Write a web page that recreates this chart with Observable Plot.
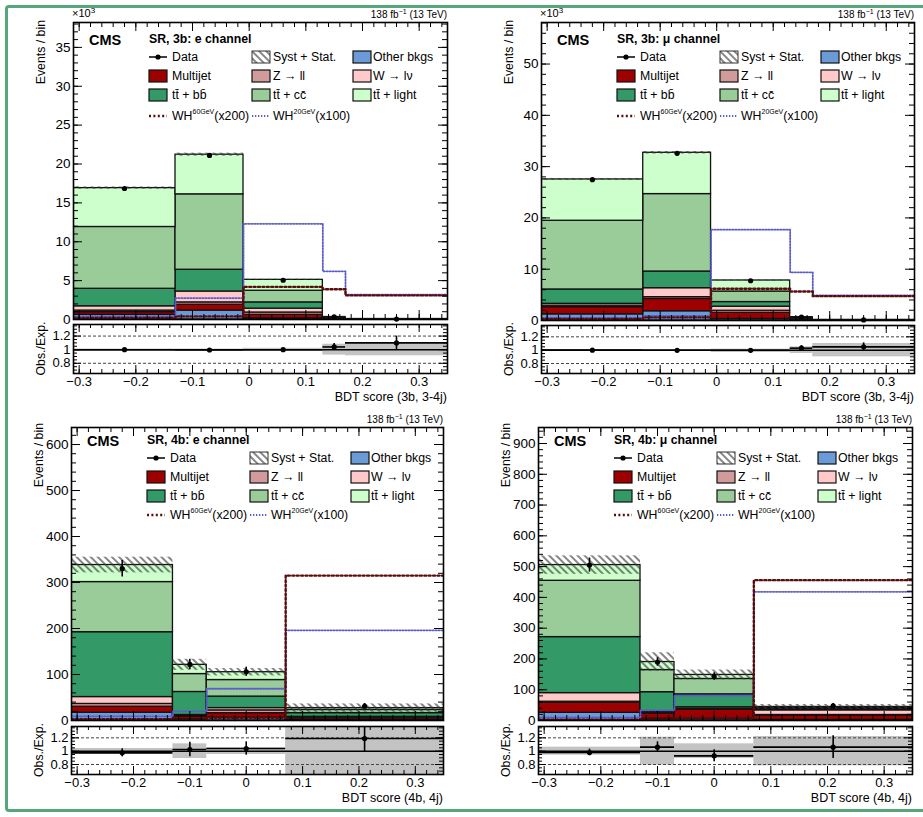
<!DOCTYPE html>
<html><head><meta charset="utf-8">
<script src="https://cdn.jsdelivr.net/npm/d3@7"></script>
<script src="https://cdn.jsdelivr.net/npm/@observablehq/plot@0.6"></script>
<style>
html,body{margin:0;padding:0;background:#fff;}
#fig{position:relative;width:923px;height:817px;overflow:hidden;font-family:"Liberation Sans",Arial,Helvetica,sans-serif;background:#fff;}
#border{position:absolute;left:5px;top:5px;width:930px;height:807px;border:3px solid #55a77b;border-radius:4px;box-sizing:border-box;}
</style></head><body>
<svg width="0" height="0" style="position:absolute">
  <defs>
    <pattern id="hatch" patternUnits="userSpaceOnUse" width="5" height="5" patternTransform="rotate(-45)">
      <line x1="1" y1="0" x2="1" y2="5" stroke="#333" stroke-width="1.2"/>
    </pattern>
  </defs>
</svg>
<div id="fig"><div id="border"></div></div>
<script>
// ---------------- data ----------------
const processNames = ["Other bkgs", "Multijet", "Z \u2192 ll", "W \u2192 l\u03bd", "tt\u0304 + bb\u0304", "tt\u0304 + cc\u0304", "tt\u0304 + light"];
const processColors = ["#6a9bd6", "#9e0000", "#d29b9b", "#ffc9c9", "#339966", "#99cc99", "#ccffcc"];

const edges3b = [-0.31, -0.13, -0.01, 0.13, 0.17, 0.35];
const edges4b = [-0.31, -0.13, -0.07, 0.07, 0.35];
const xTicks = [-0.3, -0.2, -0.1, 0, 0.1, 0.2, 0.3];
const ratioTicks = [0.8, 1, 1.2];

// SR 3b, e channel (events x10^3)
const el3b_other    = [0.60, 1.15, 0.15, 0.02, 0.005];
const el3b_multijet = [0.35, 0.75, 0.45, 0.05, 0.01];
const el3b_zll      = [0.20, 0.30, 0.30, 0.02, 0.005];
const el3b_wlnu     = [0.55, 1.40, 0.50, 0.03, 0.01];
const el3b_ttbb     = [2.25, 2.80, 0.80, 0.06, 0.01];
const el3b_ttcc     = [7.95, 9.70, 1.50, 0.08, 0.01];
const el3b_ttlight  = [5.00, 5.10, 1.40, 0.06, 0.01];
const el3b_data     = [16.85, 21.10, 5.05, 0.33, 0.06];
const el3b_dataErr  = [0.13, 0.15, 0.07, 0.02, 0.008];
const el3b_unc      = [0.15, 0.20, 0.08, 0.02, 0.006];
const el3b_wh60     = [0.2, 0.4, 4.2, 3.9, 3.1];
const el3b_wh20     = [0.4, 2.75, 12.3, 6.2, 3.2];
const el3b_ratio    = [1.00, 0.995, 1.00, 1.04, 1.10];
const el3b_ratioErr = [0.008, 0.007, 0.014, 0.05, 0.10];
const el3b_band     = [0.01, 0.01, 0.02, 0.08, 0.09];

// SR 3b, mu channel (events x10^3)
const mu3b_other    = [1.20, 1.80, 0.30, 0.05, 0.01];
const mu3b_multijet = [1.40, 2.40, 1.20, 0.10, 0.02];
const mu3b_zll      = [0.30, 0.35, 0.40, 0.03, 0.005];
const mu3b_wlnu     = [0.35, 1.75, 0.80, 0.07, 0.01];
const mu3b_ttbb     = [2.80, 3.25, 0.90, 0.10, 0.02];
const mu3b_ttcc     = [13.40, 15.10, 2.05, 0.15, 0.02];
const mu3b_ttlight  = [8.05, 8.05, 2.15, 0.15, 0.02];
const mu3b_data     = [27.45, 32.60, 7.75, 0.67, 0.11];
const mu3b_dataErr  = [0.17, 0.18, 0.09, 0.026, 0.01];
const mu3b_unc      = [0.20, 0.25, 0.10, 0.03, 0.008];
const mu3b_wh60     = [0.3, 0.6, 6.2, 5.65, 4.75];
const mu3b_wh20     = [0.5, 0.9, 17.7, 9.4, 4.9];
const mu3b_ratio    = [1.00, 0.998, 0.997, 1.03, 1.05];
const mu3b_ratioErr = [0.006, 0.006, 0.012, 0.04, 0.06];
const mu3b_band     = [0.01, 0.01, 0.015, 0.05, 0.10];

// SR 4b, e channel (events)
const el4b_other    = [17, 3, 6, 1];
const el4b_multijet = [13, 5, 10, 4];
const el4b_zll      = [6, 2, 6, 1];
const el4b_wlnu     = [15, 2, 5, 2];
const el4b_ttbb     = [141, 50, 25, 8];
const el4b_ttcc     = [109, 39, 36, 7];
const el4b_ttlight  = [37, 20, 17, 4];
const el4b_data     = [330, 122, 106, 31];
const el4b_dataErr  = [18, 11, 10, 6];
const el4b_unc      = [17, 12, 8, 9];
const el4b_wh60     = [3, 2, 6, 315];
const el4b_wh20     = [9, 20, 69, 196];
const el4b_ratio    = [0.975, 1.025, 1.04, 1.19];
const el4b_ratioErr = [0.06, 0.11, 0.10, 0.20];
const el4b_band     = [0.04, 0.11, 0.05, 0.50];

// SR 4b, mu channel (events)
const mu4b_other    = [25, 6, 5, 2];
const mu4b_multijet = [33, 17, 30, 14];
const mu4b_zll      = [3, 2, 3, 2];
const mu4b_wlnu     = [28, 3, 5, 15];
const mu4b_ttbb     = [182, 64, 42, 4];
const mu4b_ttcc     = [183, 72, 50, 4];
const mu4b_ttlight  = [51, 26, 13, 3];
const mu4b_data     = [505, 190, 143, 48];
const mu4b_dataErr  = [23, 14, 12, 7];
const mu4b_unc      = [30, 30, 16, 8];
const mu4b_wh60     = [3, 3, 8, 456];
const mu4b_wh20     = [10, 33, 81, 418];
const mu4b_ratio    = [0.98, 1.06, 0.93, 1.06];
const mu4b_ratioErr = [0.05, 0.08, 0.09, 0.17];
const mu4b_band     = [0.06, 0.21, 0.11, 0.22];

// ---------------- panels (layout) ----------------
const panels = [
  {title: "SR, 3b: e channel", xTitle: "BDT score (3b, 3-4j)", scaled: true,
   L: 73, R: 447, T: 22, B: 319, RT: 324, RB: 373, yMax: 38.2, yStep: 5, yMinor: 1, rows: [35, 54, 73, 94],
   edges: edges3b, comps: [el3b_other, el3b_multijet, el3b_zll, el3b_wlnu, el3b_ttbb, el3b_ttcc, el3b_ttlight],
   data: el3b_data, dataErr: el3b_dataErr, unc: el3b_unc, wh60: el3b_wh60, wh20: el3b_wh20,
   ratio: el3b_ratio, ratioErr: el3b_ratioErr, band: el3b_band},
  {title: "SR, 3b: \u03bc channel", xTitle: "BDT score (3b, 3-4j)", scaled: true,
   L: 541, R: 914, T: 22, B: 320, RT: 325, RB: 373, yMax: 58.1, yStep: 10, yMinor: 2, rows: [35, 54, 73, 94],
   edges: edges3b, comps: [mu3b_other, mu3b_multijet, mu3b_zll, mu3b_wlnu, mu3b_ttbb, mu3b_ttcc, mu3b_ttlight],
   data: mu3b_data, dataErr: mu3b_dataErr, unc: mu3b_unc, wh60: mu3b_wh60, wh20: mu3b_wh20,
   ratio: mu3b_ratio, ratioErr: mu3b_ratioErr, band: mu3b_band},
  {title: "SR, 4b: e channel", xTitle: "BDT score (4b, 4j)", scaled: false,
   L: 71, R: 443, T: 427, B: 720, RT: 726, RB: 774, yMax: 637, yStep: 100, yMinor: 20, rows: [31, 50, 69, 88],
   edges: edges4b, comps: [el4b_other, el4b_multijet, el4b_zll, el4b_wlnu, el4b_ttbb, el4b_ttcc, el4b_ttlight],
   data: el4b_data, dataErr: el4b_dataErr, unc: el4b_unc, wh60: el4b_wh60, wh20: el4b_wh20,
   ratio: el4b_ratio, ratioErr: el4b_ratioErr, band: el4b_band},
  {title: "SR, 4b: \u03bc channel", xTitle: "BDT score (4b, 4j)", scaled: false,
   L: 538, R: 912, T: 427, B: 720, RT: 726, RB: 774, yMax: 952, yStep: 100, yMinor: 20, rows: [31, 50, 69, 88],
   edges: edges4b, comps: [mu4b_other, mu4b_multijet, mu4b_zll, mu4b_wlnu, mu4b_ttbb, mu4b_ttcc, mu4b_ttlight],
   data: mu4b_data, dataErr: mu4b_dataErr, unc: mu4b_unc, wh60: mu4b_wh60, wh20: mu4b_wh20,
   ratio: mu4b_ratio, ratioErr: mu4b_ratioErr, band: mu4b_band}
];

// ---------------- drawing ----------------
const FONT = '"Liberation Sans", Arial, Helvetica, sans-serif';
const XDOM = [-0.31, 0.35];
const RDOM = [0.65, 1.37];
const WH60_STYLE = {stroke: "#5a0c0c", width: 2.4, dash: "2,2.4"};
const WH20_STYLE = {stroke: "#5b5bcf", width: 1.8, dash: "1.3,1.7"};
const fig = document.getElementById("fig");

function tickRange(lo, hi, step) {
  const a = Math.ceil(lo / step - 1e-9), b = Math.floor(hi / step + 1e-9);
  return d3.range(a, b + 1).map(i => +(i * step).toFixed(6));
}
function stepPoints(edges, vals) {
  const pts = vals.map((v, i) => ({x: edges[i], y: v}));
  pts.push({x: edges[edges.length - 1], y: vals[vals.length - 1]});
  return pts;
}
function fmtX(d) { const v = Math.round(d * 10) / 10; return v < 0 ? "\u2212" + Math.abs(v) : String(v); }
function place(svg, left, top) {
  svg.style.position = "absolute";
  svg.style.left = left + "px";
  svg.style.top = top + "px";
  fig.appendChild(svg);
}
function frameTicks(W, H, xMaj, xMin, yMaj, yMin, big, small) {
  return [
    Plot.tickX(xMaj, {x: d => d, insetTop: H - big, stroke: "black", strokeWidth: 1}),
    Plot.tickX(xMaj, {x: d => d, insetBottom: H - big, stroke: "black", strokeWidth: 1}),
    Plot.tickX(xMin, {x: d => d, insetTop: H - small, stroke: "black", strokeWidth: 1}),
    Plot.tickX(xMin, {x: d => d, insetBottom: H - small, stroke: "black", strokeWidth: 1}),
    Plot.tickY(yMaj, {y: d => d, insetRight: W - big, stroke: "black", strokeWidth: 1}),
    Plot.tickY(yMaj, {y: d => d, insetLeft: W - big, stroke: "black", strokeWidth: 1}),
    Plot.tickY(yMin, {y: d => d, insetRight: W - small, stroke: "black", strokeWidth: 1}),
    Plot.tickY(yMin, {y: d => d, insetLeft: W - small, stroke: "black", strokeWidth: 1})
  ];
}

function drawPanel(p) {
  const mL = 70, mR = 6, mT = 22, mB = 2;
  const W = p.R - p.L, H = p.B - p.T;
  const bins = p.edges.slice(0, -1).map((e, i) => ({
    i, x1: e, x2: p.edges[i + 1], xc: (e + p.edges[i + 1]) / 2,
    data: p.data[i], err: p.dataErr[i], unc: p.unc[i],
    ratio: p.ratio[i], rErr: p.ratioErr[i], band: p.band[i]
  }));
  const rects = [];
  bins.forEach(b => {
    let c = 0;
    p.comps.forEach((arr, k) => { rects.push({k, x1: b.x1, x2: b.x2, y1: c, y2: c + arr[b.i]}); c += arr[b.i]; });
    b.total = c;
  });

  const xMaj = tickRange(XDOM[0], XDOM[1], 0.1), xMin = tickRange(XDOM[0], XDOM[1], 0.02);
  const yMaj = tickRange(0, p.yMax, p.yStep), yMin = tickRange(0, p.yMax, p.yMinor);

  const marks = [];
  p.comps.forEach((arr, k) => {
    marks.push(Plot.rect(rects.filter(r => r.k === k), {x1: "x1", x2: "x2", y1: "y1", y2: "y2",
      fill: processColors[k], stroke: "#111", strokeWidth: 1.3, clip: true}));
  });
  marks.push(Plot.rect(bins, {x1: "x1", x2: "x2", y1: d => d.total - d.unc, y2: d => d.total + d.unc,
    fill: "url(#hatch)", clip: true}));
  marks.push(Plot.line(stepPoints(p.edges, p.wh20), {x: "x", y: "y", curve: "step-after",
    stroke: WH20_STYLE.stroke, strokeWidth: WH20_STYLE.width, strokeDasharray: WH20_STYLE.dash, clip: true}));
  marks.push(Plot.line(stepPoints(p.edges, p.wh60), {x: "x", y: "y", curve: "step-after",
    stroke: WH60_STYLE.stroke, strokeWidth: WH60_STYLE.width, strokeDasharray: WH60_STYLE.dash, clip: true}));
  marks.push(Plot.ruleX(bins, {x: "xc", y1: d => d.data - d.err, y2: d => d.data + d.err, stroke: "black", strokeWidth: 1.6}));
  marks.push(Plot.dot(bins, {x: "xc", y: "data", r: 2.6, fill: "black"}));
  marks.push(...frameTicks(W, H, xMaj, xMin, yMaj, yMin, 9, 5));
  marks.push(Plot.axisY({ticks: yMaj, anchor: "left", tickSize: 0, tickPadding: 3, fontSize: 13.5, label: null, tickFormat: d => String(d)}));
  marks.push(Plot.frame({stroke: "black", strokeWidth: 1.6}));

  const svg = Plot.plot({
    width: mL + W + mR, height: mT + H + mB,
    marginLeft: mL, marginRight: mR, marginTop: mT, marginBottom: mB,
    x: {domain: XDOM, axis: null},
    y: {domain: [0, p.yMax]},
    style: {fontFamily: FONT, fontSize: "13px", background: "none", overflow: "visible", color: "black"},
    marks
  });
  place(svg, p.L - mL, p.T - mT);

  // annotations (frame-relative)
  const g = d3.select(svg).append("g").attr("transform", `translate(${mL},${mT})`)
    .attr("font-family", FONT).attr("fill", "black").attr("text-anchor", "start");
  // lumi label
  const lumi = g.append("text").attr("x", W).attr("y", -4).attr("text-anchor", "end").attr("font-size", 10);
  lumi.append("tspan").text("138 fb");
  lumi.append("tspan").attr("dy", -4).attr("font-size", 7).text("\u22121");
  lumi.append("tspan").attr("dy", 4).text(" (13 TeV)");
  if (p.scaled) {
    const t = g.append("text").attr("x", -1).attr("y", -5).attr("font-size", 11);
    t.append("tspan").text("\u00d710");
    t.append("tspan").attr("dy", -4).attr("font-size", 8).text("3");
  }
  // y title
  g.append("text").attr("transform", `translate(-31,${p.scaled ? -2 : -4}) rotate(-90)`)
    .attr("text-anchor", "end").attr("dominant-baseline", "middle").attr("font-size", 12.3).text("Events / bin");
  // CMS and region title
  const dy0 = p.rows[0] - 35;
  g.append("text").attr("x", 16).attr("y", 23 + dy0).attr("font-size", 14.5).attr("font-weight", "bold").text("CMS");
  g.append("text").attr("x", 76).attr("y", 20.5 + dy0).attr("font-size", 12.3).attr("font-weight", "bold").text(p.title);
  // legend
  const cols = [[76, 99], [179, 200], [280, 300]];
  const fs = 12.3;
  const entries = [
    [0, 0, "data", "Data"], [0, 1, "hatch", "Syst + Stat."], [0, 2, 0, processNames[0]],
    [1, 0, 1, processNames[1]], [1, 1, 2, processNames[2]], [1, 2, 3, processNames[3]],
    [2, 0, 4, processNames[4]], [2, 1, 5, processNames[5]], [2, 2, 6, processNames[6]]
  ];
  entries.forEach(([r, c, kind, label]) => {
    const cy = p.rows[r], bx = cols[c][0], tx = cols[c][1];
    if (kind === "data") {
      g.append("line").attr("x1", bx).attr("x2", bx + 18).attr("y1", cy).attr("y2", cy).attr("stroke", "black").attr("stroke-width", 1.5);
      g.append("circle").attr("cx", bx + 9).attr("cy", cy).attr("r", 2.6).attr("fill", "black");
    } else if (kind === "hatch") {
      g.append("rect").attr("x", bx).attr("y", cy - 6).attr("width", 18).attr("height", 12)
        .attr("fill", "url(#hatch)").attr("stroke", "#333").attr("stroke-width", 1);
    } else {
      g.append("rect").attr("x", bx).attr("y", cy - 6).attr("width", 18).attr("height", 12)
        .attr("fill", processColors[kind]).attr("stroke", "#111").attr("stroke-width", 1.2);
    }
    g.append("text").attr("x", tx).attr("y", cy + 4.4).attr("font-size", fs).text(label);
  });
  const cy3 = p.rows[3];
  const whs = [[0, WH60_STYLE, "60GeV", "(x200)"], [1, WH20_STYLE, "20GeV", "(x100)"]];
  whs.forEach(([c, st, sup, fac]) => {
    const bx = cols[c][0], tx = cols[c][1];
    g.append("line").attr("x1", bx).attr("x2", bx + 18).attr("y1", cy3).attr("y2", cy3)
      .attr("stroke", st.stroke).attr("stroke-width", st.width).attr("stroke-dasharray", st.dash);
    const t = g.append("text").attr("x", tx).attr("y", cy3 + 4.4).attr("font-size", fs);
    t.append("tspan").text("WH");
    t.append("tspan").attr("dy", -6).attr("font-size", 7).text(sup);
    t.append("tspan").attr("dy", 6).text(fac);
  });

  // ---------- ratio panel ----------
  const rT = 4, rB = 34;
  const RH = p.RB - p.RT;
  const ryMin = tickRange(0.7, 1.35, 0.05);
  const rmarks = [
    Plot.rect(bins, {x1: "x1", x2: "x2", y1: d => 1 - d.band, y2: d => 1 + d.band, fill: "#c3c3c3", clip: true}),
    Plot.ruleY([0.8, 1.2], {y: d => d, stroke: "#444", strokeDasharray: "3,2", strokeWidth: 1}),
    Plot.ruleY([1], {y: d => d, stroke: "black", strokeWidth: 1.5}),
    Plot.ruleY(bins, {y: "ratio", x1: "x1", x2: "x2", stroke: "black", strokeWidth: 1.6, clip: true}),
    Plot.ruleX(bins, {x: "xc", y1: d => d.ratio - d.rErr, y2: d => d.ratio + d.rErr, stroke: "black", strokeWidth: 1.6, clip: true}),
    Plot.dot(bins, {x: "xc", y: "ratio", r: 2.6, fill: "black", clip: true}),
    ...frameTicks(W, RH, xMaj, xMin, ratioTicks, ryMin, 8, 4),
    Plot.axisX({ticks: xTicks, anchor: "bottom", tickSize: 0, tickPadding: 3, fontSize: 13, label: null, tickFormat: fmtX}),
    Plot.axisY({ticks: ratioTicks, anchor: "left", tickSize: 0, tickPadding: 3, fontSize: 13, label: null, tickFormat: d => String(d)}),
    Plot.frame({stroke: "black", strokeWidth: 1.6})
  ];
  const rsvg = Plot.plot({
    width: mL + W + mR, height: rT + RH + rB,
    marginLeft: mL, marginRight: mR, marginTop: rT, marginBottom: rB,
    x: {domain: XDOM},
    y: {domain: RDOM},
    style: {fontFamily: FONT, fontSize: "13px", background: "none", overflow: "visible", color: "black"},
    marks: rmarks
  });
  place(rsvg, p.L - mL, p.RT - rT);
  const rg = d3.select(rsvg).append("g").attr("transform", `translate(${mL},${rT})`)
    .attr("font-family", FONT).attr("fill", "black");
  rg.append("text").attr("transform", `translate(-31,${RH / 2}) rotate(-90)`)
    .attr("text-anchor", "middle").attr("dominant-baseline", "middle").attr("font-size", 12.3).text("Obs./Exp.");
  rg.append("text").attr("x", W).attr("y", RH + 28).attr("text-anchor", "end").attr("font-size", 12.5).text(p.xTitle);
}

panels.forEach(drawPanel);
</script>
</body></html>
